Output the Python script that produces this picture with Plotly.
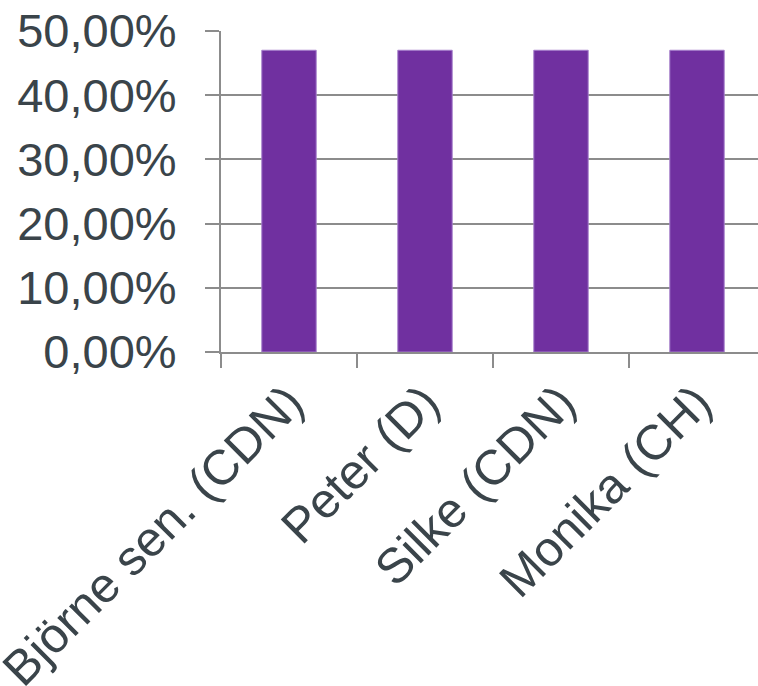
import plotly.graph_objects as go

categories = ["Björne sen. (CDN)", "Peter (D)", "Silke (CDN)", "Monika (CH)"]
values = [0.47, 0.47, 0.47, 0.47]
y_ticks = [0, 0.1, 0.2, 0.3, 0.4, 0.5]

axis_gray = "#8c8c8c"
text_color = "#3a444a"

fig = go.Figure()
fig.add_trace(go.Bar(
    x=categories, y=values, width=0.4,
    marker=dict(color="#7030A0", line=dict(color="#a57fcb", width=1)),
))

fig.update_layout(
    width=758, height=686,
    margin=dict(l=221, r=0, t=31, b=334),
    paper_bgcolor="white", plot_bgcolor="white",
    separators=",.",
    showlegend=False,
    font=dict(family="Liberation Sans, Arial, sans-serif", size=47, color=text_color),
)
fig.update_yaxes(
    range=[0, 0.5], tickvals=y_ticks, tickformat=".2%",
    showgrid=True, gridcolor=axis_gray, gridwidth=2,
    showline=True, linecolor=axis_gray, linewidth=2,
    ticks="outside", ticklen=14, tickcolor=axis_gray, tickwidth=2,
    ticklabelstandoff=19, zeroline=False, automargin=False,
)
fig.update_xaxes(
    range=[-0.5, -0.5 + 537 / 136], tickangle=-45,
    tickfont=dict(size=49),
    showgrid=False, showline=True, linecolor=axis_gray, linewidth=2,
    ticks="outside", tickson="boundaries", ticklen=14, tickcolor=axis_gray, tickwidth=2,
    automargin=False,
)

fig.write_html("out.html")
